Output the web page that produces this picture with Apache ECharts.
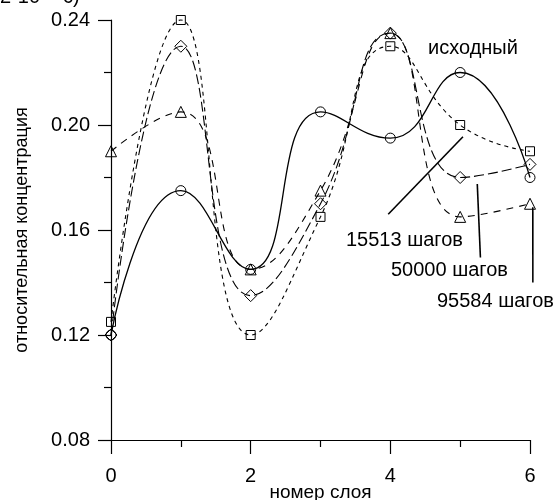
<!DOCTYPE html>
<html lang="ru">
<head>
    <meta charset="UTF-8">
    <title>относительная концентрация по слоям</title>
    <style>
        html, body { margin: 0; padding: 0; background: #fff; }
        #main { width: 560px; height: 500px; }
    </style>
</head>
<body>
    <div id="main"></div>
    <script src="https://cdn.jsdelivr.net/npm/echarts@6/dist/echarts.min.js"></script>
    <script>
        // номер слоя
        var layers = [0, 1, 2, 3, 4, 5, 6];
        // исходный профиль и профили после N шагов
        var initial    = [0.12,  0.175, 0.145, 0.205, 0.195, 0.22,  0.18];
        var steps15513 = [0.125, 0.24,  0.12,  0.165, 0.23,  0.20,  0.19];
        var steps50000 = [0.12,  0.23,  0.135, 0.17,  0.235, 0.18,  0.185];
        var steps95584 = [0.19,  0.205, 0.145, 0.175, 0.235, 0.165, 0.17];
        var yTicks = [0.08, 0.12, 0.16, 0.20, 0.24];

        // выноски к подписям: концы в координатах данных
        var leaders = [
            [[3.97, 0.166], [5.04, 0.1955]],
            [[5.245, 0.1775], [5.29, 0.1495]],
            [[6.04, 0.1687], [6.041, 0.140]]
        ];

        var font = '"Liberation Sans", Arial, sans-serif';
        var myChart = echarts.init(document.getElementById('main'));

        function pairs(vals) {
            return layers.map(function (x, i) { return [x, vals[i]]; });
        }

        function mkSeries(name, vals, symbol, size, dash) {
            return {
                name: name,
                type: 'line',
                smooth: true,
                clip: false,
                data: pairs(vals),
                symbol: symbol,
                symbolSize: size,
                showAllSymbol: true,
                itemStyle: { color: 'rgba(0,0,0,0)', borderColor: '#000', borderWidth: 1 },
                lineStyle: { color: '#000', width: dash ? 1.1 : 1.3, type: dash || 'solid' },
                z: dash ? 2 : 3
            };
        }

        var textStyle = { fontFamily: font, fontSize: 20, fill: '#000', verticalAlign: 'middle' };
        function label(text, x, y) {
            return { type: 'text', x: x, y: y, style: Object.assign({ text: text }, textStyle) };
        }

        var option = {
            backgroundColor: '#fff',
            animation: false,
            grid: { left: 111, right: 30, top: 20, bottom: 60, outerBoundsMode: 'none' },
            xAxis: {
                type: 'value',
                min: 0, max: 6, interval: 2,
                name: 'номер слоя',
                nameLocation: 'middle',
                nameGap: 43,
                nameMoveOverlap: false,
                nameTextStyle: { color: '#000', fontFamily: font, fontSize: 19 },
                axisLine: { onZero: false, lineStyle: { color: '#000', width: 1.2 } },
                axisTick: { length: 14, lineStyle: { color: '#000', width: 1.2 } },
                minorTick: { show: true, splitNumber: 2, length: 7, lineStyle: { color: '#000', width: 1.2 } },
                axisLabel: { color: '#000', fontFamily: font, fontSize: 20, margin: 26 },
                splitLine: { show: false }
            },
            yAxis: {
                type: 'value',
                min: yTicks[0], max: yTicks[yTicks.length - 1], interval: 0.04,
                name: 'относительная концентрация',
                nameLocation: 'middle',
                nameGap: 80,
                nameMoveOverlap: false,
                nameTextStyle: { color: '#000', fontFamily: font, fontSize: 18 },
                axisLine: { show: true, lineStyle: { color: '#000', width: 1.2 } },
                axisTick: { length: 13, lineStyle: { color: '#000', width: 1.2 } },
                minorTick: { show: true, splitNumber: 2, length: 7, lineStyle: { color: '#000', width: 1.2 } },
                axisLabel: {
                    color: '#000', fontFamily: font, fontSize: 20, margin: 21,
                    formatter: function (v) { return v.toFixed(2); }
                },
                splitLine: { show: false }
            },
            series: [
                mkSeries('15513 шагов', steps15513, 'rect', 9, [4, 4]),
                mkSeries('50000 шагов', steps50000, 'diamond', 12, [10, 4]),
                mkSeries('95584 шагов', steps95584, 'triangle', 11, [7, 6]),
                mkSeries('исходный', initial, 'circle', 10, null)
            ]
        };
        myChart.setOption(option);

        var graphics = [
            label('2·10', 0, -3),
            label('с)', 63, -3),
            label('исходный', 428, 48),
            label('15513 шагов', 346, 240),
            label('50000 шагов', 391, 270),
            label('95584 шагов', 437, 301)
        ];
        leaders.forEach(function (l) {
            var a = myChart.convertToPixel({ gridIndex: 0 }, l[0]);
            var b = myChart.convertToPixel({ gridIndex: 0 }, l[1]);
            graphics.push({
                type: 'line',
                silent: true,
                z: 10,
                shape: { x1: a[0], y1: a[1], x2: b[0], y2: b[1] },
                style: { stroke: '#000', lineWidth: 1.6 }
            });
        });
        myChart.setOption({ graphic: graphics });
    </script>
</body>
</html>
